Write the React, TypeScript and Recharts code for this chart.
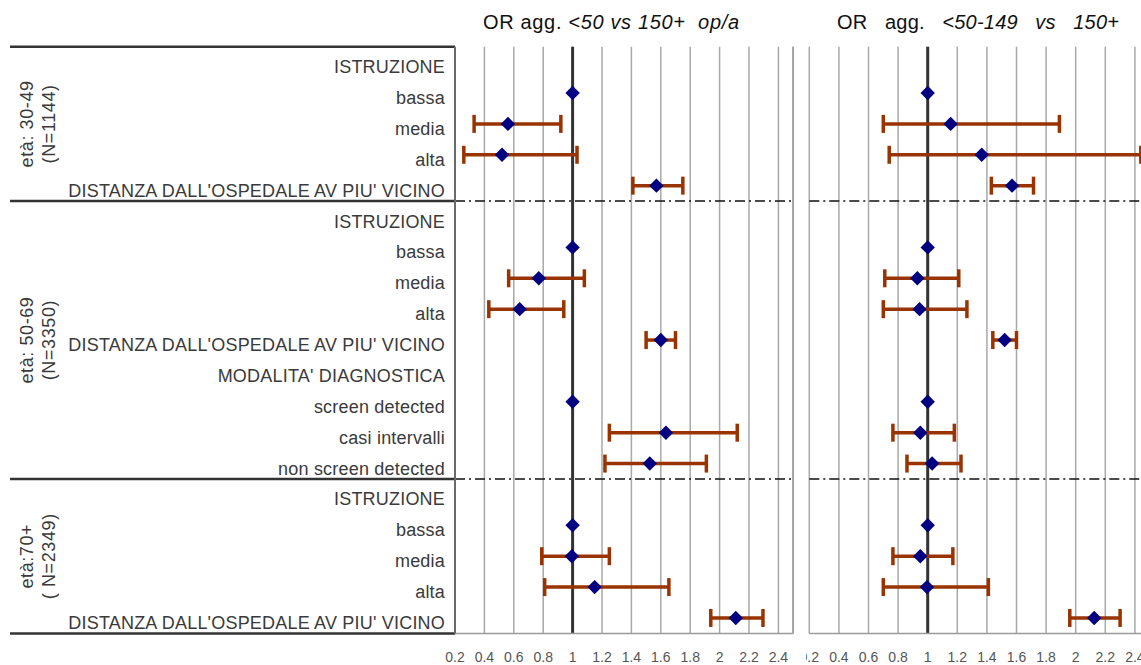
import React from 'react';
import {
  ScatterChart,
  Scatter,
  XAxis,
  YAxis,
  CartesianGrid,
  ErrorBar,
  ReferenceLine,
} from 'recharts';

// ---------- data ----------
const ROW_LABELS = [
  'ISTRUZIONE',
  'bassa',
  'media',
  'alta',
  "DISTANZA DALL'OSPEDALE AV PIU' VICINO",
  'ISTRUZIONE',
  'bassa',
  'media',
  'alta',
  "DISTANZA DALL'OSPEDALE AV PIU' VICINO",
  "MODALITA' DIAGNOSTICA",
  'screen detected',
  'casi intervalli',
  'non screen detected',
  'ISTRUZIONE',
  'bassa',
  'media',
  'alta',
  "DISTANZA DALL'OSPEDALE AV PIU' VICINO",
];

const GROUP_LABELS = [
  ['età: 30-49', '(N=1144)'],
  ['età: 50-69', '(N=3350)'],
  ['età:70+', '( N=2349)'],
];
const GROUP_FIRST_ROW = [0, 5, 14];
const GROUP_LAST_ROW = [4, 13, 18];

const TITLE_LEFT = ['OR agg. ', '<50 vs 150+  op/a'];
const TITLE_RIGHT = ['OR   agg.   ', '<50-149   vs   150+'];

const X_TICKS = [0.2, 0.4, 0.6, 0.8, 1, 1.2, 1.4, 1.6, 1.8, 2, 2.2, 2.4];

// reference categories (OR = 1)
const REF_ROWS = [1, 6, 11, 15];
const REF_OR = [1, 1, 1, 1];

// rows carrying an estimate with confidence interval
const EST_ROWS = [2, 3, 4, 7, 8, 9, 12, 13, 16, 17, 18];

// panel 1: <50 vs 150+ op/a
const LEFT_OR = [0.56, 0.52, 1.57, 0.77, 0.64, 1.6, 1.635, 1.525, 0.995, 1.15, 2.11];
const LEFT_LO = [0.33, 0.26, 1.41, 0.565, 0.43, 1.5, 1.25, 1.22, 0.79, 0.81, 1.94];
const LEFT_HI = [0.92, 1.03, 1.75, 1.08, 0.94, 1.7, 2.12, 1.91, 1.25, 1.655, 2.295];

// panel 2: <50-149 vs 150+
const RIGHT_OR = [1.155, 1.365, 1.57, 0.93, 0.945, 1.52, 0.95, 1.03, 0.95, 0.995, 2.125];
const RIGHT_LO = [0.7, 0.74, 1.43, 0.71, 0.7, 1.44, 0.765, 0.86, 0.765, 0.7, 1.96];
const RIGHT_HI = [1.89, 2.44, 1.715, 1.21, 1.265, 1.6, 1.18, 1.225, 1.17, 1.41, 2.3];

// ---------- derived tables ----------
const refData = REF_ROWS.map((r, i) => ({ x: REF_OR[i], y: r }));
const makeEst = (or: number[], lo: number[], hi: number[]) =>
  EST_ROWS.map((r, i) => ({ x: or[i], y: r, err: [or[i] - lo[i], hi[i] - or[i]] }));
const leftData = makeEst(LEFT_OR, LEFT_LO, LEFT_HI);
const rightData = makeEst(RIGHT_OR, RIGHT_LO, RIGHT_HI);

// ---------- layout ----------
const W = 1141;
const H = 665;
const TOP = 46.7;
const BOTTOM = 633.4;
const NROWS = ROW_LABELS.length;
const ROW_H = (BOTTOM - TOP) / NROWS;
const FONT = "'Liberation Sans', Arial, Helvetica, sans-serif";
const TEXT = '#3a3a3a';

const Diamond = (props: any) => {
  const { cx, cy } = props;
  if (cx == null || cy == null) return null;
  const s = 7.2;
  return (
    <polygon
      points={`${cx},${cy - s} ${cx + s},${cy} ${cx},${cy + s} ${cx - s},${cy}`}
      fill="#000080"
    />
  );
};

const XTick = (props: any) => {
  const { x, y, payload } = props;
  return (
    <text x={x} y={y + 28.5} textAnchor="middle" fontSize={14} fill="#555" fontFamily={FONT}>
      {String(payload.value)}
    </text>
  );
};

const YTick = (props: any) => {
  const { x, y, payload } = props;
  return (
    <text
      x={x}
      y={y + 11}
      textAnchor="end"
      fontSize={18}
      fill={TEXT}
      fontFamily={FONT}
      letterSpacing={0.2}
    >
      {ROW_LABELS[payload.value]}
    </text>
  );
};

const ROW_TICKS = ROW_LABELS.map((_, i) => i);
const SEPARATORS = GROUP_LAST_ROW.slice(0, -1).map((r) => r + 0.5);

const Panel = ({
  data,
  width,
  marginLeft,
  marginRight,
  showLabels,
}: {
  data: any[];
  width: number;
  marginLeft: number;
  marginRight: number;
  showLabels: boolean;
}) => (
  <ScatterChart
    width={width}
    height={H}
    margin={{ top: TOP, right: marginRight, bottom: H - BOTTOM - 30, left: marginLeft }}
  >
    <CartesianGrid horizontal={false} stroke="#a8a8a8" strokeWidth={1.5} />
    <XAxis
      type="number"
      dataKey="x"
      domain={[0.2, 2.5]}
      ticks={X_TICKS}
      interval={0}
      allowDataOverflow
      height={30}
      tickLine={false}
      tickSize={0}
      tickMargin={0}
      axisLine={{ stroke: '#9a9a9a', strokeWidth: 1.5 }}
      tick={<XTick />}
    />
    <YAxis
      type="number"
      dataKey="y"
      domain={[-0.5, NROWS - 0.5]}
      reversed
      ticks={ROW_TICKS}
      interval={0}
      hide={!showLabels}
      width={showLabels ? 455 : 0}
      tickLine={false}
      tickSize={0}
      tickMargin={10}
      axisLine={{ stroke: '#6a6a6a', strokeWidth: 2 }}
      tick={<YTick />}
    />
    <ReferenceLine x={2.5} stroke="#9a9a9a" strokeWidth={1.5} ifOverflow="extendDomain" />
    <ReferenceLine x={1} stroke="#333" strokeWidth={3} />
    {SEPARATORS.map((s) => (
      <ReferenceLine key={s} y={s} stroke="#111" strokeWidth={1.5} strokeDasharray="10 4 2 4" />
    ))}
    <Scatter data={data} shape={<Diamond />} isAnimationActive={false}>
      <ErrorBar dataKey="err" direction="x" width={9} strokeWidth={3.5} stroke="#993300" />
    </Scatter>
    <Scatter data={refData} shape={<Diamond />} isAnimationActive={false} />
  </ScatterChart>
);

export default function App() {
  const tableLineYs = [TOP, ...GROUP_LAST_ROW.map((r) => TOP + (r + 1) * ROW_H)];
  return (
    <div
      style={{
        position: 'absolute',
        left: 0,
        top: 0,
        width: W,
        height: H,
        overflow: 'hidden',
        background: '#fff',
        fontFamily: FONT,
      }}
    >
      <svg width={W} height={H} style={{ position: 'absolute', left: 0, top: 0 }}>
        <text
          x={483}
          y={29}
          fontSize={20}
          fill="#111"
          fontFamily={FONT}
          textLength={256}
          lengthAdjust="spacing"
          style={{ whiteSpace: 'pre' }}
        >
          <tspan>{TITLE_LEFT[0]}</tspan>
          <tspan fontStyle="italic">{TITLE_LEFT[1]}</tspan>
        </text>
        <text
          x={837}
          y={29}
          fontSize={20}
          fill="#111"
          fontFamily={FONT}
          textLength={282}
          lengthAdjust="spacing"
          style={{ whiteSpace: 'pre' }}
        >
          <tspan>{TITLE_RIGHT[0]}</tspan>
          <tspan fontStyle="italic">{TITLE_RIGHT[1]}</tspan>
        </text>
        {tableLineYs.map((y, i) => (
          <line key={i} x1={10} x2={455} y1={y} y2={y} stroke="#333" strokeWidth={2.5} />
        ))}
        {GROUP_LABELS.map((g, i) => {
          const yc = TOP + ((GROUP_FIRST_ROW[i] + GROUP_LAST_ROW[i] + 1) / 2) * ROW_H;
          return (
            <g key={i}>
              <text
                transform={`translate(33,${yc}) rotate(-90)`}
                textAnchor="middle"
                fontSize={18}
                fill={TEXT}
                fontFamily={FONT}
                letterSpacing={0.6}
                style={{ whiteSpace: 'pre' }}
              >
                {g[0]}
              </text>
              <text
                transform={`translate(55,${yc}) rotate(-90)`}
                textAnchor="middle"
                fontSize={18}
                fill={TEXT}
                fontFamily={FONT}
                letterSpacing={0.6}
                style={{ whiteSpace: 'pre' }}
              >
                {g[1]}
              </text>
            </g>
          );
        })}
      </svg>
      <div style={{ position: 'absolute', left: 0, top: 0, width: 800, height: H }}>
        <Panel data={leftData} width={800} marginLeft={0} marginRight={6.9} showLabels />
      </div>
      <div style={{ position: 'absolute', left: 806, top: 0, width: W - 806, height: H, overflow: 'hidden' }}>
        <Panel data={rightData} width={350} marginLeft={3.3} marginRight={6.3} showLabels={false} />
      </div>
    </div>
  );
}
